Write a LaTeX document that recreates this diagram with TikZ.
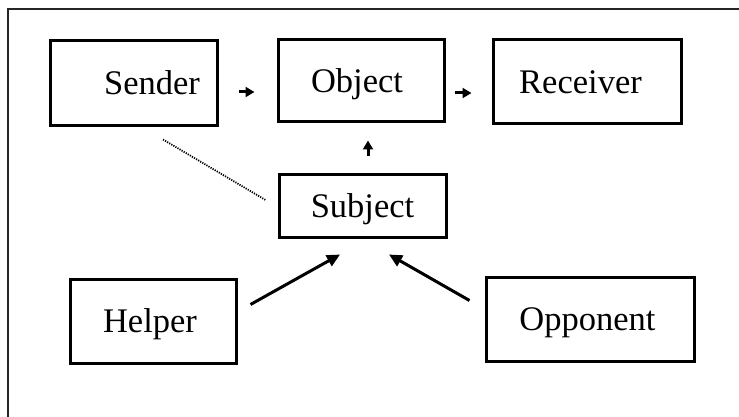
\documentclass[tikz,border=0pt]{standalone}
\usepackage{fontspec}
\setmainfont{Liberation Serif}
\usetikzlibrary{arrows.meta}
\begin{document}
\begin{tikzpicture}[x=1pt,y=-1pt,
  box/.style={draw=black, line width=3pt, rectangle, inner sep=0pt,
    text height=23pt, text depth=0pt,
    font=\fontsize{34.5}{40}\selectfont},
  arr/.style={line width=3pt, -{Triangle[length=9pt,width=10pt]}},
  longarr/.style={line width=3pt, -{Triangle[length=13pt,width=12pt]}},
  dotline/.style={line width=1.8pt, draw=black, dash pattern=on 1.2pt off 1.2pt},
  frame/.style={line width=1.8pt, draw=black!85}]
\useasboundingbox (0,0) rectangle (739,417);
% frame (cropped screenshot edges)
\coordinate (fl) at (8,417);
\coordinate (fc) at (8,9);
\coordinate (fr) at (739,9);
\draw[frame] (fl) -- (fc) -- (fr);
% boxes
\node[box, minimum width=167pt, minimum height=85pt] (sender) at (133.5,83.5) {\hspace*{37pt}Sender};
\node[box, minimum width=166pt, minimum height=82pt] (object) at (361,81) {Object\hspace*{8pt}};
\node[box, minimum width=188pt, minimum height=84pt] (receiver) at (587,82) {Receiver\hspace*{13pt}};
\node[box, minimum width=167pt, minimum height=63pt] (subject) at (362.5,205.5) {Subject};
\node[box, minimum width=166pt, minimum height=84pt] (helper) at (153,321) {Helper\hspace*{6pt}};
\node[box, minimum width=208pt, minimum height=84pt] (opponent) at (590,319) {Opponent\hspace*{5pt}};
% connectors
\draw[arr, shorten <=20pt, shorten >=22pt] ([yshift=-8.5pt]sender.east) -- ([yshift=-8.5pt]sender.east -| object.west);
\draw[arr, shorten <=9pt, shorten >=20pt] ([yshift=-12pt]object.east) -- ([yshift=-12pt]object.east -| receiver.west);
\draw[arr, shorten <=16pt, shorten >=17pt] ([xshift=5.5pt]subject.north) -- ([xshift=5.5pt]subject.north |- object.south);
\draw[longarr] ([shift={(13,27)}]helper.north east) -- ([shift={(-22.5,16)}]subject.south);
\draw[longarr] ([shift={(-15,25)}]opponent.north west) -- ([shift={(26.5,16)}]subject.south);
\draw[dotline] ([shift={(29.5,12)}]sender.south) -- ([shift={(-12,-5.5)}]subject.west);
\end{tikzpicture}
\end{document}
